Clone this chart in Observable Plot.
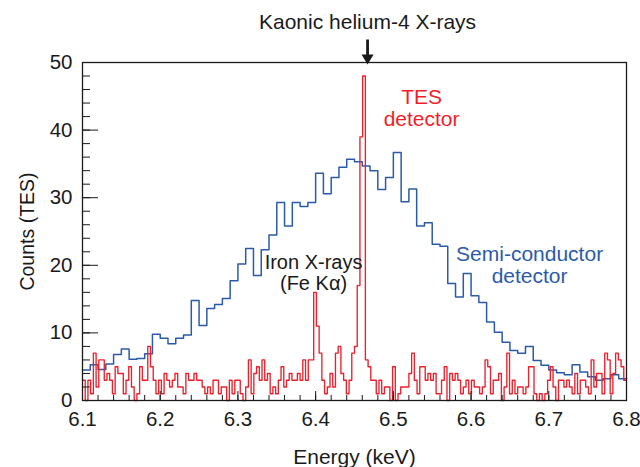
<!DOCTYPE html>
<html><head><meta charset="utf-8">
<script src="https://cdn.jsdelivr.net/npm/d3@7"></script>
<script src="https://cdn.jsdelivr.net/npm/@observablehq/plot@0.6"></script>
<style>body{margin:0;background:#fff} svg{display:block}</style>
</head><body><div id="chart"></div>
<script>
// Semi-conductor detector histogram (10 eV bins from 6.10 keV)
const sddStart = 6.10, sddWidth = 0.01;
const sddCounts = [
  4.5, 5.3, 4.6, 5.4, 6.8, 7.6, 6.1, 6.2, 6.9, 9.8,
  9.2, 8.4, 9.2, 9.7, 14.8, 11.1, 13.6, 14.2, 15.1, 17.7,
  20.2, 22.5, 18.5, 22.3, 24.5, 29.3, 25.8, 29.3, 28.7, 29.3,
  33.6, 30.6, 33.0, 34.5, 35.7, 35.3, 34.7, 34.0, 31.2, 33.0,
  36.7, 29.4, 31.3, 25.8, 26.3, 23.1, 22.8, 17.3, 15.3, 18.8,
  15.5, 14.5, 11.6, 10.1, 8.6, 7.4, 7.0, 8.0, 5.9, 5.2,
  4.5, 4.1, 3.8, 5.3, 4.2, 3.5, 3.0, 3.2, 3.8, 3.2
];
// TES histogram (3.5 eV bins from 6.10 keV)
const tesStart = 6.10, tesWidth = 0.0035;
const tesCounts = [
  3,0,3,1,7,2,6,6,3,4,
  3,1,5,4,4,1,3,5,2,0,
  1,5,3,3,8,5,3,1,3,1,
  4,3,2,3,4,2,2,1,4,3,
  3,4,3,3,2,1,2,1,3,3,
  1,2,2,0,3,1,3,3,1,0,
  2,6,1,4,5,3,6,3,4,1,
  2,1,3,5,2,3,4,3,3,4,
  3,6,3,6,6,16,11,7,3,1,
  2,4,2,7,8,4,3,1,3,7,
  8,17,39,48,6,5,3,3,1,3,
  1,2,2,0,5,0,1,2,2,2,
  4,7,3,1,5,5,3,4,3,4,
  1,1,3,5,0,4,3,4,3,1,
  2,3,1,3,2,2,1,2,6,5,
  1,3,3,4,0,2,7,1,3,1,
  2,2,1,2,5,5,1,0,1,0,
  1,3,5,2,0,3,3,2,3,2,
  1,4,1,3,3,2,1,6,2,4,
  4,1,7,6,1,4,7,6,5,3
];
const xTicks = [6.1, 6.2, 6.3, 6.4, 6.5, 6.6, 6.7, 6.8];
const yTicks = [0, 10, 20, 30, 40, 50];
const xLabel = "Energy (keV)";
const yLabel = "Counts (TES)";
const titleText = "Kaonic helium-4 X-rays";
const tesLabel = ["TES", "detector"];
const ironLabel = ["Iron X-rays", "(Fe Kα)"];
const sddLabel = ["Semi-conductor", "detector"];

function steps(start, width, counts) {
  const pts = counts.map((c, i) => ({x: start + i * width, y: c}));
  pts.push({x: start + counts.length * width, y: counts[counts.length - 1]});
  return pts;
}

const W = 640, H = 467, mL = 82, mR = 14, mT = 62, mB = 67;
const pw = W - mL - mR, ph = H - mT - mB;
const font = "'Liberation Sans', Arial, Helvetica, sans-serif";
const red = "#ee1f2b", blue = "#2b5ba8", ink = "#1a1a1a";
const xMinor = d3.range(0, 36).map(i => 6.1 + i * 0.02);
const yMinor = d3.range(0, 26).map(i => i * 2);

const arrowShape = {
  draw(ctx, l) {
    ctx.moveTo(-1.4, -l); ctx.lineTo(1.4, -l); ctx.lineTo(1.4, -10);
    ctx.lineTo(6, -10); ctx.lineTo(0, 0); ctx.lineTo(-6, -10);
    ctx.lineTo(-1.4, -10); ctx.closePath();
  }
};

// two-line labels: each line is its own text, stacked with a pixel offset
function twoLines(lines, x, y, size, color, gap) {
  return lines.map((t, i) => Plot.text([t], {x: () => x, y: () => y, dy: (i - 0.5) * gap, fontSize: size, fill: color}));
}

const chart = Plot.plot({
  width: W, height: H,
  marginLeft: mL, marginRight: mR, marginTop: mT, marginBottom: mB,
  style: {fontFamily: font, background: "#fff", color: ink},
  x: {domain: [6.1, 6.8]},
  y: {domain: [0, 50]},
  marks: [
    Plot.line(steps(sddStart, sddWidth, sddCounts), {x: "x", y: "y", curve: "step-after", stroke: blue, strokeWidth: 1.5}),
    Plot.line(steps(tesStart, tesWidth, tesCounts), {x: "x", y: "y", curve: "step-after", stroke: red, strokeWidth: 1.35}),
    Plot.tickX(xMinor, {x: d => d, insetTop: ph - 5, stroke: ink}),
    Plot.tickX(xTicks, {x: d => d, insetTop: ph - 9, stroke: ink}),
    Plot.tickY(yMinor, {y: d => d, insetRight: pw - 8, stroke: ink}),
    Plot.tickY(yTicks, {y: d => d, insetRight: pw - 16, stroke: ink}),
    Plot.axisX(xTicks, {tickSize: 0, tickPadding: 11, fontSize: 20.5, tickFormat: d => d.toFixed(1), label: null}),
    Plot.axisY(yTicks, {tickSize: 0, tickPadding: 10, fontSize: 20.5, label: null}),
    Plot.frame({stroke: ink, strokeWidth: 1.3}),
    Plot.text([xLabel], {frameAnchor: "bottom", lineAnchor: "middle", textAnchor: "middle", dy: 57, fontSize: 21, fill: ink}),
    Plot.text([yLabel], {frameAnchor: "left", lineAnchor: "middle", textAnchor: "middle", rotate: -90, dx: -55, fontSize: 19.5, fill: ink}),
    Plot.text([titleText], {x: () => 6.4668, frameAnchor: "top", lineAnchor: "middle", dy: -40, fontSize: 21, fill: ink}),
    Plot.vector([6.4668], {x: d => d, frameAnchor: "top", anchor: "start", length: 25, dy: 2, shape: arrowShape, fill: ink, stroke: "none"}),
    ...twoLines(tesLabel, 6.5363, 43.2, 21, red, 21.5),
    ...twoLines(ironLabel, 6.3973, 18.9, 20, ink, 21),
    ...twoLines(sddLabel, 6.6753, 20.0, 21, blue, 21.5)
  ]
});
document.getElementById("chart").appendChild(chart);
</script>
</body></html>
